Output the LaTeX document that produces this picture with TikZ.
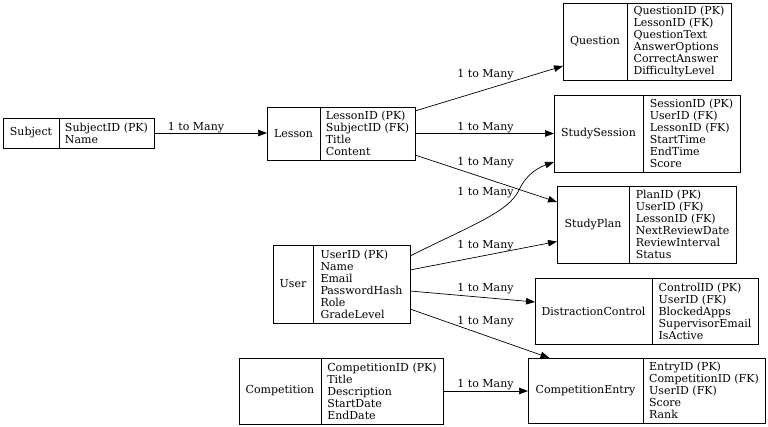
\documentclass[tikz,border=0pt]{standalone}
\usepackage{fontspec}
\setmainfont{DejaVu Serif}
\usepackage{tikz}
\usetikzlibrary{positioning,arrows.meta}
\newcommand\erfont{\fontsize{11pt}{12pt}\selectfont}

\begin{document}
\begin{tikzpicture}
            [x=1pt,y=-1pt,
             ent/.style={rectangle,draw,line width=0.8pt,outer sep=0pt,inner sep=2pt,font=\erfont,anchor=north west},
             fld/.style={rectangle,draw,line width=0.8pt,outer sep=0pt,inner sep=2pt,font=\erfont,align=left},
             rel/.style={line width=0.7pt,-{Triangle[length=9pt,width=6.5pt]}},
             lbl/.style={font=\erfont,anchor=base,inner sep=0pt}]
            \useasboundingbox (0,0) rectangle (768,427);
            % entities: name part, then the field part to its right
            \node[ent,minimum width=56pt,minimum height=30pt](subject) at (3,118) {Subject};
            \node[fld,minimum width=95pt,minimum height=30pt](subjectf)[right=0pt of subject] {SubjectID (PK)\\Name};
            \node[ent,minimum width=53pt,minimum height=53pt](lesson) at (267,107) {Lesson};
            \node[fld,minimum width=95pt,minimum height=53pt](lessonf)[right=0pt of lesson] {LessonID (PK)\\SubjectID (FK)\\Title\\Content};
            \node[ent,minimum width=64pt,minimum height=77pt](question) at (563,3) {Question};
            \node[fld,minimum width=104pt,minimum height=77pt](questionf)[right=0pt of question] {QuestionID (PK)\\LessonID (FK)\\QuestionText\\AnswerOptions\\CorrectAnswer\\DifficultyLevel};
            \node[ent,minimum width=89pt,minimum height=77pt](studysession) at (554,95) {StudySession};
            \node[fld,minimum width=97pt,minimum height=77pt](studysessionf)[right=0pt of studysession] {SessionID (PK)\\UserID (FK)\\LessonID (FK)\\StartTime\\EndTime\\Score};
            \node[ent,minimum width=72pt,minimum height=77pt](studyplan) at (557,186) {StudyPlan};
            \node[fld,minimum width=107pt,minimum height=77pt](studyplanf)[right=0pt of studyplan] {PlanID (PK)\\UserID (FK)\\LessonID (FK)\\NextReviewDate\\ReviewInterval\\Status};
            \node[ent,minimum width=40pt,minimum height=78pt](user) at (273,245) {User};
            \node[fld,minimum width=97pt,minimum height=78pt](userf)[right=0pt of user] {UserID (PK)\\Name\\Email\\PasswordHash\\Role\\GradeLevel};
            \node[ent,minimum width=117pt,minimum height=66pt](distraction) at (535,278) {DistractionControl};
            \node[fld,minimum width=106pt,minimum height=66pt](distractionf)[right=0pt of distraction] {ControlID (PK)\\UserID (FK)\\BlockedApps\\SupervisorEmail\\IsActive};
            \node[ent,minimum width=82pt,minimum height=66pt](competition) at (239,358) {Competition};
            \node[fld,minimum width=122pt,minimum height=66pt](competitionf)[right=0pt of competition] {CompetitionID (PK)\\Title\\Description\\StartDate\\EndDate};
            \node[ent,minimum width=115pt,minimum height=65pt](entry) at (528,358) {CompetitionEntry};
            \node[fld,minimum width=122pt,minimum height=65pt](entryf)[right=0pt of entry] {EntryID (PK)\\CompetitionID (FK)\\UserID (FK)\\Score\\Rank};
            % relations
            \draw[rel](subjectf.east) -- (subjectf.east -| lesson.west) node[lbl,at={(196,131)}]{1 to Many};
            \draw[rel]([yshift=22.5pt]lessonf.east) -- ([yshift=-24.5pt]question.west) node[lbl,at={(485.5,78)}]{1 to Many};
            \draw[rel](lessonf.east) -- (lessonf.east -| studysession.west) node[lbl,at={(485.5,131)}]{1 to Many};
            \draw[rel]([yshift=-21.5pt]lessonf.east) -- ([yshift=22.5pt]studyplan.west) node[lbl,at={(485.5,166)}]{1 to Many};
            \draw[rel]([yshift=28pt]userf.east) .. controls (470,226) and (509,212) .. (519,190)
                .. controls (527,173) and (540,167) .. ([yshift=-28.5pt]studysession.west);
            \node[lbl](ulbl) at (485.5,196) {1 to Many};
            \draw[rel]([yshift=14pt]userf.east) -- ([yshift=-17pt]studyplan.west) node[lbl,at={(485.5,249)}]{1 to Many};
            \draw[rel]([yshift=-7pt]userf.east) -- ([yshift=9pt]distraction.west) node[lbl,at={(485.5,292)}]{1 to Many};
            \draw[rel]([yshift=-25pt]userf.east) -- ([xshift=-36pt]entry.north) node[lbl,at={(485.5,325)}]{1 to Many};
            \draw[rel](competitionf.east) -- (competitionf.east -| entry.west) node[lbl,at={(485.5,388)}]{1 to Many};
        \end{tikzpicture}
\end{document}
